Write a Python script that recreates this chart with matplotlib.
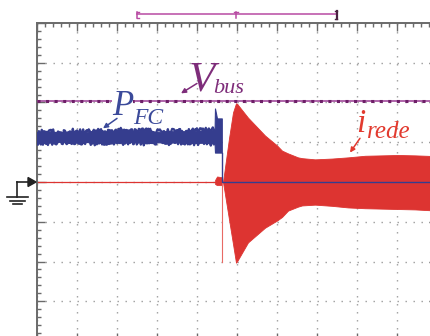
import matplotlib
matplotlib.use("Agg")
import matplotlib.pyplot as plt
from matplotlib.lines import Line2D
from matplotlib.ticker import MultipleLocator

# Screen units: time in divisions (0..10), amplitude in divisions (-4..4)
v_bus_level = 2.05

# Fuel-cell power trace (noisy band) before and at the transition
pfc_x = [0.0, 0.3, 0.6, 0.9, 1.2, 1.5, 1.8, 2.1, 2.4, 2.7, 3.0, 3.3, 3.6, 3.9,
         4.2, 4.44, 4.45, 4.5, 4.62]
pfc_hi = [1.24, 1.27, 1.25, 1.28, 1.26, 1.29, 1.27, 1.30, 1.27, 1.29, 1.26,
          1.28, 1.27, 1.29, 1.30, 1.32, 1.85, 1.60, 1.60]
pfc_lo = [1.00, 0.99, 1.02, 0.99, 1.01, 0.98, 1.00, 0.99, 1.01, 0.98, 1.00,
          0.99, 1.00, 0.98, 0.99, 0.97, 0.74, 0.74, 0.74]
# Fuel-cell power after disconnection
pfc_off_x = [4.63, 4.63, 10.0]
pfc_off_y = [0.74, 0.0, 0.0]

# Grid current: idle, small step, then envelope of the oscillation
irede_idle_x = [0.0, 4.63]
irede_idle_y = [0.0, 0.0]
irede_step_x = [4.45, 4.50, 4.63]
irede_step_hi = [0.05, 0.14, 0.12]
irede_step_lo = [-0.05, -0.08, -0.08]
irede_spike_x = [4.63, 4.63]
irede_spike_y = [0.0, -2.0]
env_x = [4.65, 4.8, 4.9, 4.975, 5.0, 5.275, 5.7, 6.0, 6.125, 6.275, 6.525,
         6.625, 6.95, 7.375, 7.775, 8.2, 8.625, 9.025, 9.45, 10.0]
env_hi = [0.0, 1.10, 1.75, 1.98, 1.97, 1.62, 1.17, 0.92, 0.79, 0.72, 0.62,
          0.60, 0.57, 0.59, 0.62, 0.66, 0.67, 0.68, 0.67, 0.65]
env_lo = [0.0, -0.94, -1.56, -2.03, -2.00, -1.52, -1.15, -0.97, -0.88, -0.72,
          -0.62, -0.59, -0.57, -0.60, -0.64, -0.66, -0.67, -0.68, -0.69, -0.72]

W, H = 431, 336
fig = plt.figure(figsize=(W / 100, H / 100), dpi=100)
fig.patch.set_facecolor("white")

# screen: left edge at 37 px, top at 23 px, 40 px per horizontal division
ax = fig.add_axes([37 / W, 1 - 341 / H, 400 / W, 318 / H])
ax.set_xlim(0, 10)
ax.set_ylim(-4, 4)
ax.set_facecolor("white")

for s in ax.spines.values():
    s.set_color("#6a6a6a")
    s.set_linewidth(1.4)

ax.xaxis.set_major_locator(MultipleLocator(1))
ax.xaxis.set_minor_locator(MultipleLocator(0.2))
ax.yaxis.set_major_locator(MultipleLocator(1))
ax.yaxis.set_minor_locator(MultipleLocator(0.2))
ax.tick_params(which="both", direction="in", top=True, bottom=True, left=True,
               right=True, labelleft=False, labelbottom=False, color="#6a6a6a")
ax.tick_params(which="major", length=5.5, width=1.0)
ax.tick_params(which="minor", length=2.8, width=1.0)
ax.grid(which="major", color="#9c9c9c", linewidth=1.0,
        linestyle=(0, (1.0, 4.76)))
ax.set_axisbelow(True)

red = "#dd3431"
blue = "#353d8e"

# grid current
ax.plot(irede_idle_x, irede_idle_y, color=red, lw=0.9, zorder=2)
ax.fill_between(irede_step_x, irede_step_lo, irede_step_hi, color=red,
                lw=0.5, edgecolor=red, zorder=2)
ax.plot(irede_spike_x, irede_spike_y, color="#e86a64", lw=0.8, zorder=2)
ax.fill_between(env_x, env_lo, env_hi, color=red, lw=0.6, edgecolor=red,
                zorder=2)

# fuel-cell power: filled band with ragged noisy edges
ax.fill_between(pfc_x, pfc_lo, pfc_hi, color=blue, lw=0.8, edgecolor=blue,
                zorder=3)
n_steady = 16
for edge in (pfc_hi, pfc_lo):
    ln, = ax.plot(pfc_x[:n_steady], edge[:n_steady], color=blue, lw=1.6,
                  zorder=3, solid_capstyle="butt")
    ln.set_sketch_params(scale=2.5, length=1.0, randomness=4.0)
ax.plot(pfc_off_x, pfc_off_y, color=blue, lw=1.0, zorder=3)

# DC bus voltage
ax.plot([0, 10], [v_bus_level, v_bus_level], color="#a24a9c", lw=1.2, zorder=4)
ax.plot([0, 10], [v_bus_level, v_bus_level], color="#6e1f68", lw=2.2,
        linestyle=(0, (1.0, 1.8)), zorder=4)

serif = ["Liberation Serif", "DejaVu Serif"]
tk = dict(family=serif, style="italic", va="baseline", ha="left", zorder=6)

ax.text(3.80, 2.30, "V", fontsize=31, color="#7e2d7a", **tk)
ax.text(4.40, 2.25, "bus", fontsize=16, color="#7e2d7a", **tk)
ax.text(1.875, 1.675, "P", fontsize=25, color="#3b4a9a",
        bbox=dict(facecolor="white", edgecolor="none", pad=0), **tk)
ax.text(2.40, 1.47, "FC", fontsize=17, color="#3b4a9a", **tk)
ax.text(7.98, 1.25, "i", fontsize=24, color="#e23a2f", **tk)
ax.text(8.25, 1.10, "rede", fontsize=18, color="#e23a2f", **tk)

arrow = dict(arrowstyle="-|>", mutation_scale=7, lw=1.1, shrinkA=0, shrinkB=0)
ax.annotate("", xy=(3.60, 2.23), xytext=(4.00, 2.48),
            arrowprops=dict(color="#7e2d7a", **arrow), zorder=6)
ax.annotate("", xy=(1.65, 1.35), xytext=(2.00, 1.60),
            arrowprops=dict(color="#3b4a9a", **arrow), zorder=6)
ax.annotate("", xy=(7.825, 0.74), xytext=(8.075, 1.10),
            arrowprops=dict(color="#e23a2f", **arrow), zorder=6)

# acquisition window marker above the screen
mk = "#b84aa3"
top_y, t_hi, t_lo = 4.22, 4.27, 4.12
ax.plot([2.5, 7.5], [top_y, top_y], color=mk, lw=1.1, clip_on=False)
ax.plot([2.5, 2.5], [t_hi, t_lo], color=mk, lw=1.1, clip_on=False)
ax.plot([2.5, 2.56], [t_hi, t_hi], color=mk, lw=1.0, clip_on=False)
ax.plot([2.5, 2.56], [t_lo, t_lo], color=mk, lw=1.0, clip_on=False)
ax.plot([4.975, 4.975], [t_hi, t_lo], color=mk, lw=1.1, clip_on=False)
ax.plot([4.92, 5.03], [t_hi, t_hi], color=mk, lw=1.0, clip_on=False)
ax.plot([7.5, 7.5], [4.29, 4.10], color="#4a2040", lw=1.6, clip_on=False)
ax.plot([7.44, 7.5], [4.29, 4.29], color="#4a2040", lw=1.0, clip_on=False)
ax.plot([7.44, 7.5], [4.10, 4.10], color="#4a2040", lw=1.0, clip_on=False)


def fx(px):
    return px / W


def fy(py):
    return 1 - py / H


# channel ground reference symbol
g = "#222222"
fig.add_artist(Line2D([fx(17), fx(30)], [fy(182), fy(182)], color=g, lw=1.2))
fig.add_artist(Line2D([fx(17), fx(17)], [fy(182), fy(197)], color=g, lw=1.2))
fig.add_artist(Line2D([fx(7), fx(28)], [fy(197), fy(197)], color=g, lw=1.2))
fig.add_artist(Line2D([fx(10), fx(25)], [fy(200.5), fy(200.5)], color=g, lw=1.2))
fig.add_artist(Line2D([fx(13), fx(22)], [fy(204), fy(204)], color=g, lw=1.2))
fig.add_artist(plt.Polygon([[fx(28), fy(177.5)], [fx(36), fy(182)],
                            [fx(28), fy(186.5)]], closed=True, color=g))

fig.savefig("out.png", dpi=100)
